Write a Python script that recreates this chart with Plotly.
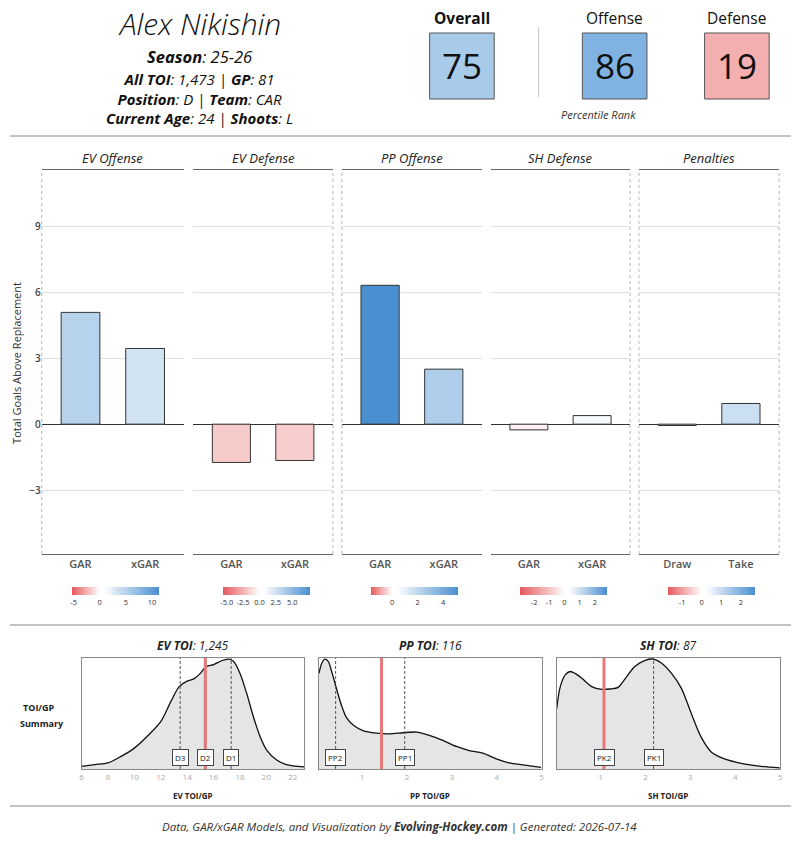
import plotly.graph_objects as go

W, H = 800, 850
FONT = "Open Sans"

# ---------------- data ----------------
player = "Alex Nikishin"
season = "25-26"
all_toi = "1,473"
games = 81
position = "D"
team = "CAR"
age = 24
shoots = "L"

rank_labels = ["Overall", "Offense", "Defense"]
rank_values = [75, 86, 19]
rank_colors = ["#a8cbe9", "#80b3e1", "#f4b0b0"]

panel_titles = ["EV Offense", "EV Defense", "PP Offense", "SH Defense", "Penalties"]
panel_cats = [["GAR", "xGAR"], ["GAR", "xGAR"], ["GAR", "xGAR"], ["GAR", "xGAR"], ["Draw", "Take"]]
panel_values = [[5.08, 3.44], [-1.74, -1.65], [6.31, 2.50], [-0.26, 0.39], [-0.06, 0.94]]
scale_limits = [(-5.25, 11.4), (-5.6, 7.7), (-1.65, 5.15), (-2.95, 2.78), (-1.7, 2.74)]
scale_ticks = [[-5, 0, 5, 10], [-5, -2.5, 0, 2.5, 5], [0, 2, 4], [-2, -1, 0, 1, 2], [-1, 0, 1, 2]]
scale_ticktext = [["-5", "0", "5", "10"], ["-5.0", "-2.5", "0.0", "2.5", "5.0"],
                  ["0", "2", "4"], ["-2", "-1", "0", "1", "2"], ["-1", "0", "1", "2"]]
y_ticks = [-3, 0, 3, 6, 9]

toi_names = ["EV TOI", "PP TOI", "SH TOI"]
toi_totals = [1245, 116, 87]
toi_axis_titles = ["EV TOI/GP", "PP TOI/GP", "SH TOI/GP"]

ev_x = [6.0, 7.0, 8.0, 9.0, 10.0, 11.0, 12.0, 12.77, 13.39, 14.0, 14.5, 15.0, 15.4, 16.0,
        16.6, 17.1, 17.5, 18.0, 18.5, 19.0, 19.5, 20.0, 20.75, 21.5, 22.85]
ev_d = [0.024, 0.04, 0.055, 0.115, 0.19, 0.30, 0.43, 0.615, 0.75, 0.80, 0.82, 0.87, 0.93, 0.95,
        0.985, 1.0, 0.98, 0.87, 0.69, 0.48, 0.30, 0.175, 0.085, 0.04, 0.02]
pp_x = [0.04, 0.10, 0.17, 0.245, 0.32, 0.43, 0.54, 0.65, 0.80, 1.02, 1.32, 1.62, 1.91, 2.21,
        2.50, 2.80, 3.10, 3.39, 3.69, 3.99, 4.28, 4.58, 4.99]
pp_d = [0.87, 0.96, 1.0, 0.98, 0.89, 0.73, 0.58, 0.47, 0.40, 0.35, 0.327, 0.32, 0.33, 0.336,
        0.306, 0.26, 0.205, 0.168, 0.144, 0.092, 0.055, 0.037, 0.015]
sh_x = [0.02, 0.10, 0.21, 0.32, 0.43, 0.58, 0.80, 1.02, 1.21, 1.39, 1.58, 1.76, 1.99, 2.17,
        2.36, 2.58, 2.80, 3.02, 3.24, 3.47, 3.76, 4.13, 4.58, 4.99]
sh_d = [0.55, 0.75, 0.856, 0.887, 0.87, 0.826, 0.75, 0.725, 0.728, 0.743, 0.84, 0.933, 0.988, 1.0,
        0.963, 0.87, 0.734, 0.505, 0.29, 0.153, 0.092, 0.052, 0.024, 0.01]
dens_x = [ev_x, pp_x, sh_x]
dens_y = [ev_d, pp_d, sh_d]
dens_ranges = [(6.0, 22.85), (0.04, 5.0), (0.016, 5.0)]
dens_ticks = [[6, 8, 10, 12, 14, 16, 18, 20, 22], [1, 2, 3, 4, 5], [1, 2, 3, 4, 5]]
tier_labels = [["D3", "D2", "D1"], ["PP2", "PP1"], ["PK2", "PK1"]]
tier_values = [[13.47, 15.42, 17.33], [0.41, 1.95], [1.08, 2.18]]

# ---------------- layout helpers ----------------
def px(x):
    return x / W

def py(y):
    return 1 - y / H

RED, BLUE = "#e5595c", "#4a8fd0"

bar_x0 = [40, 192.5, 342, 492, 641]
bar_x1 = [183, 333, 483, 632, 782]
bar_top, bar_bot = 170, 554
cbar_cx = [114.5, 266, 415, 564.7, 714.3]

dens_x0 = [80, 319, 558]
dens_x1 = [304, 543, 783]
dens_top, dens_bot = 658, 769

fig = go.Figure()
layout = dict(width=W, height=H, margin=dict(l=0, r=0, t=0, b=0),
              paper_bgcolor="white", plot_bgcolor="white", showlegend=False,
              font=dict(family=FONT, color="#222"))
annotations = []
shapes = []

def ann(x, y, text, size, color="#222", **kw):
    d = dict(x=px(x), y=py(y), xref="paper", yref="paper", text=text, showarrow=False,
             xanchor="center", yanchor="middle", font=dict(family=FONT, size=size, color=color))
    d.update(kw)
    annotations.append(d)

# ---------------- header ----------------
ann(199, 23.5, f"<i>{player}</i>", 30, "#111", font=dict(family=FONT, size=30, color="#111", weight=300))
ann(199, 57, f"<i><b>Season</b>: {season}</i>", 16.5, "#111")
info_lines = [f"<i><b>All TOI</b>: {all_toi} | <b>GP</b>: {games}</i>",
              f"<i><b>Position</b>: {position} | <b>Team</b>: {team}</i>",
              f"<i><b>Current Age</b>: {age} | <b>Shoots</b>: {shoots}</i>"]
ann(199, 98.5, "<br>".join(info_lines), 15, "#111")

box_cx = [462.8, 616.5, 739.5]
for i, (lab, val, col) in enumerate(zip(rank_labels, rank_values, rank_colors)):
    cx = box_cx[i]
    txt = f"<b>{lab}</b>" if i == 0 else lab
    ann(cx, 18, txt, 15.5, "#111")
    shapes.append(dict(type="rect", xref="paper", yref="paper", x0=px(cx - 32.5), x1=px(cx + 32.5),
                       y0=py(99), y1=py(33), fillcolor=col, line=dict(color="#555", width=1)))
    ann(cx, 66, str(val), 35, "#111")
shapes.append(dict(type="line", xref="paper", yref="paper", x0=px(540), x1=px(540),
                   y0=py(97), y1=py(27), line=dict(color="#cccccc", width=1.2)))
ann(600, 114, "<i>Percentile Rank</i>", 11, "#333")

for yy in [136, 625, 806]:
    shapes.append(dict(type="line", xref="paper", yref="paper", x0=px(8), x1=px(794),
                       y0=py(yy), y1=py(yy), line=dict(color="#888", width=1)))

# ---------------- bar panels ----------------
for i in range(5):
    n = "" if i == 0 else str(i + 1)
    cmin, cmax = scale_limits[i]
    z0 = -cmin / (cmax - cmin)
    cscale = [[0, RED], [z0 * 0.55, "#f5b3b4"], [z0, "#ffffff"],
              [min(z0 + 0.05, 0.99), "#ffffff"], [1, BLUE]]
    fig.add_trace(go.Bar(
        x=panel_cats[i], y=panel_values[i], xaxis="x" + n, yaxis="y" + n, width=0.6,
        marker=dict(color=panel_values[i], coloraxis="coloraxis" + n,
                    line=dict(color="#333", width=1)),
    ))
    layout["coloraxis" + n] = dict(
        cmin=cmin, cmax=cmax, colorscale=cscale,
        colorbar=dict(orientation="h", x=px(cbar_cx[i]), xanchor="center", y=py(596),
                      yanchor="middle", len=87, lenmode="pixels", thickness=8,
                      outlinewidth=0, xpad=0, ypad=0, ticks="",
                      tickvals=scale_ticks[i], ticktext=scale_ticktext[i],
                      tickfont=dict(family=FONT, size=7.5, color="#333")))
    layout["xaxis" + n] = dict(domain=[px(bar_x0[i]), px(bar_x1[i])], anchor="y" + n,
                               type="category", range=[-0.6, 1.6], showline=True, mirror=True,
                               linecolor="#666", linewidth=1, ticks="", showgrid=False,
                               tickfont=dict(family=FONT, size=11, color="#555", weight=600),
                               fixedrange=True)
    yax = dict(domain=[py(bar_bot), py(bar_top)], anchor="x" + n, range=[-5.9, 11.55],
               tickvals=y_ticks, gridcolor="#e0e0e0", gridwidth=1, zeroline=True,
               zerolinecolor="#333", zerolinewidth=1.3, showline=False, ticks="",
               tickfont=dict(family=FONT, size=10, color="#444", weight=600))
    if i > 0:
        yax["matches"] = "y"
        yax["showticklabels"] = False
    layout["yaxis" + n] = yax
    ann((bar_x0[i] + bar_x1[i]) / 2, 158, f"<i>{panel_titles[i]}</i>", 13, "#222")

for xx in [40, 333, 342, 632, 641, 782]:
    shapes.append(dict(type="line", xref="paper", yref="paper", x0=px(xx), x1=px(xx),
                       y0=py(bar_bot), y1=py(bar_top), line=dict(color="#b5b5b5", width=1, dash="dot")))

ann(15, 363, "Total Goals Above Replacement", 11, "#333", textangle=-90)

# ---------------- density panels ----------------
for k in range(3):
    idx = 6 + k
    n = str(idx)
    fig.add_trace(go.Scatter(
        x=dens_x[k], y=dens_y[k], xaxis="x" + n, yaxis="y" + n, mode="lines",
        line=dict(color="#111", width=1.3, shape="spline", smoothing=0.8),
        fill="tozeroy", fillcolor="#e5e5e5", hoverinfo="skip"))
    layout["xaxis" + n] = dict(domain=[px(dens_x0[k]), px(dens_x1[k])], anchor="y" + n,
                               range=list(dens_ranges[k]), tickvals=dens_ticks[k], showgrid=False,
                               zeroline=False, showline=True, mirror=True, linecolor="#888",
                               linewidth=1, ticks="",
                               tickfont=dict(family=FONT, size=8, color="#aaa"))
    layout["yaxis" + n] = dict(domain=[py(dens_bot), py(dens_top)], anchor="x" + n,
                               range=[0, 1.01], showticklabels=False, showgrid=False,
                               zeroline=False, showline=True, mirror=True, linecolor="#888",
                               linewidth=1, ticks="")
    for lab, val in zip(tier_labels[k], tier_values[k]):
        shapes.append(dict(type="line", xref="x" + n, yref="y" + n + " domain", x0=val, x1=val,
                           y0=0, y1=1, line=dict(color="#555", width=1, dash="3px,2px")))
    player_val = toi_totals[k] / games
    shapes.append(dict(type="line", xref="x" + n, yref="y" + n + " domain", x0=player_val,
                       x1=player_val, y0=0, y1=1, line=dict(color="#e57878", width=3)))
    for lab, val in zip(tier_labels[k], tier_values[k]):
        annotations.append(dict(x=val, y=0.1, xref="x" + n, yref="y" + n + " domain", text=lab,
                                showarrow=False, xanchor="center", yanchor="middle",
                                font=dict(family=FONT, size=8, color="#222"), bgcolor="white",
                                bordercolor="#444", borderwidth=1, borderpad=2))
    cx = (dens_x0[k] + dens_x1[k]) / 2
    ann(cx, 645, f"<b><i>{toi_names[k]}</i></b><i>: {toi_totals[k]:,}</i>", 12, "#222")
    ann(cx, 795, f"<b>{toi_axis_titles[k]}</b>", 8, "#222")

ann(37, 707, "<b>TOI/GP</b>", 9, "#222")
ann(40, 723, "<b>Summary</b>", 9, "#222")

# ---------------- footer ----------------
ann(400, 826, "<i>Data, GAR/xGAR Models, and Visualization by <b>Evolving-Hockey.com</b> | Generated: 2026-07-14</i>",
    11.5, "#333")

layout["annotations"] = annotations
layout["shapes"] = shapes
fig.update_layout(**layout)
fig.write_html("out.html")
